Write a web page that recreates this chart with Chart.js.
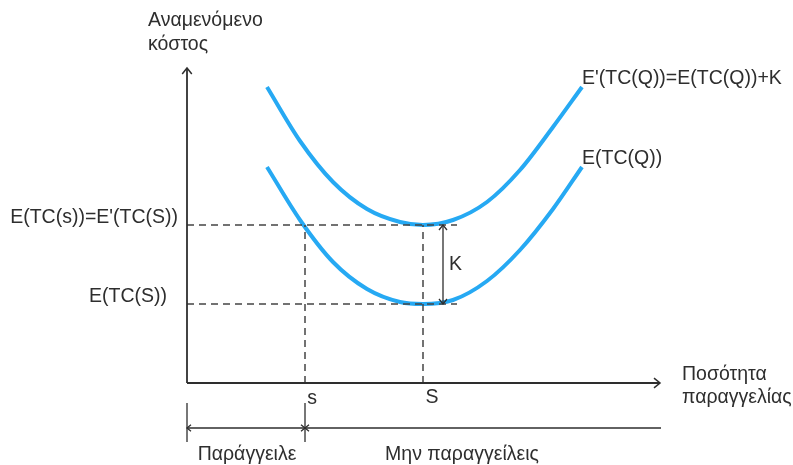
<!DOCTYPE html>
<html>
<head>
<meta charset="utf-8">
<script src="https://cdn.jsdelivr.net/npm/chart.js@4/dist/chart.umd.min.js"></script>
<style>
  html, body { margin: 0; padding: 0; background: #fff; }
  #wrap { width: 793px; height: 465px; }
</style>
</head>
<body>
<div id="wrap"><canvas id="costChart" width="793" height="465"></canvas></div>
<script>
// points (x = order quantity, y = expected cost)
const qValues = [80, 113, 146, 180, 213, 236, 266, 300, 333, 366, 395];
const upperCost = [296, 242, 201, 174, 161, 158, 163, 181, 213, 256, 296];
const lowerCost = [216, 163, 121, 94, 81, 79, 83, 102, 133, 174, 216];

const qMarks = [118, 236];           // s, S
const qMarkLabels = ["s", "S"];
const costLevels = [158, 79];        // E(TC(s))=E'(TC(S)), E(TC(S))
const costLevelLabels = ["E(TC(s))=E'(TC(S))", "E(TC(S))"];
const dashEnd = 270;
const curveLabels = ["E'(TC(Q))=E(TC(Q))+K", "E(TC(Q))"];
const xMax = 473, yMax = 315;

const blue = "#26a9f3";
const ink = "#2e2e2e";
const font = "19.5px 'Liberation Sans', Arial, sans-serif";

const toPts = (xs, ys) => xs.map((x, i) => ({ x: x, y: ys[i] }));

const dashed = {
  borderColor: "#444",
  borderWidth: 1.5,
  borderDash: [7, 5],
  pointRadius: 0,
  tension: 0,
};

// axes, arrows and texts
const annotate = {
  id: "annotate",
  afterDatasetsDraw(chart) {
    const c = chart.ctx;
    const xs = chart.scales.x, ys = chart.scales.y;
    const x0 = xs.getPixelForValue(0), y0 = ys.getPixelForValue(0);
    const xEnd = xs.getPixelForValue(xMax), yTop = ys.getPixelForValue(yMax);

    function line(ax, ay, bx, by) {
      c.beginPath(); c.moveTo(ax, ay); c.lineTo(bx, by); c.stroke();
    }
    function head(tx, ty, dx, dy, size) {
      // open chevron pointing in direction (dx, dy)
      const px = -dy, py = dx;
      c.beginPath();
      c.moveTo(tx - dx * size + px * size * 0.8, ty - dy * size + py * size * 0.8);
      c.lineTo(tx, ty);
      c.lineTo(tx - dx * size - px * size * 0.8, ty - dy * size - py * size * 0.8);
      c.stroke();
    }

    c.save();
    c.strokeStyle = ink;
    c.lineWidth = 1.8;
    line(x0, y0, xEnd, y0);
    line(x0, y0, x0, yTop);
    c.lineWidth = 1.5;
    head(xEnd, y0, 1, 0, 6);
    head(x0, yTop, 0, -1, 6);

    // K arrow between the two minima
    c.lineWidth = 1.3;
    const kx = xs.getPixelForValue(256);
    const ka = ys.getPixelForValue(costLevels[0]), kb = ys.getPixelForValue(costLevels[1]);
    line(kx, ka, kx, kb);
    head(kx, ka, 0, -1, 5);
    head(kx, kb, 0, 1, 5);

    // decision bracket under the axis
    const bY = y0 + 45;
    const sx = xs.getPixelForValue(qMarks[0]);
    line(x0, bY, xEnd + 1, bY);
    line(x0, bY - 25, x0, bY + 14);
    line(sx, bY - 25, sx, bY + 14);
    head(x0, bY, -1, 0, 4);
    head(sx, bY, 1, 0, 4);
    head(sx, bY, -1, 0, 4);

    c.fillStyle = ink;
    c.font = font;
    c.textBaseline = "middle";
    c.textAlign = "left";
    c.fillText("Αναμενόμενο", 148, 21);
    c.fillText("κόστος", 148, 45);
    const lastQ = xs.getPixelForValue(qValues[qValues.length - 1]);
    c.fillText(curveLabels[0], lastQ, ys.getPixelForValue(upperCost[upperCost.length - 1]) - 8);
    c.fillText(curveLabels[1], lastQ, ys.getPixelForValue(lowerCost[lowerCost.length - 1]) - 8);
    c.fillText("K", kx + 6, (ka + kb) / 2);
    c.fillText("Ποσότητα", xEnd + 22, y0 - 8);
    c.fillText("παραγγελίας", xEnd + 22, y0 + 15);

    c.textAlign = "right";
    c.fillText(costLevelLabels[0], x0 - 9, ys.getPixelForValue(costLevels[0]) - 7);
    c.fillText(costLevelLabels[1], x0 - 20, ys.getPixelForValue(costLevels[1]) - 7);

    c.textAlign = "center";
    c.fillText(qMarkLabels[0], sx + 7, y0 + 16);
    c.fillText(qMarkLabels[1], xs.getPixelForValue(qMarks[1]) + 9, y0 + 15);
    c.fillText("Παράγγειλε", (x0 + sx) / 2 + 1, bY + 27);
    c.fillText("Μην παραγγείλεις", 462, bY + 27);
    c.restore();
  }
};

const curve = {
  borderColor: blue,
  borderWidth: 4,
  pointRadius: 0,
  cubicInterpolationMode: "monotone",
  borderCapStyle: "butt",
};

new Chart(document.getElementById("costChart").getContext("2d"), {
  type: "line",
  data: {
    datasets: [
      Object.assign({ data: [{ x: 0, y: costLevels[0] }, { x: dashEnd, y: costLevels[0] }] }, dashed),
      Object.assign({ data: [{ x: 0, y: costLevels[1] }, { x: dashEnd, y: costLevels[1] }] }, dashed),
      Object.assign({ data: [{ x: qMarks[0], y: 0 }, { x: qMarks[0], y: costLevels[0] }] }, dashed),
      Object.assign({ data: [{ x: qMarks[1], y: 0 }, { x: qMarks[1], y: costLevels[0] }] }, dashed),
      Object.assign({ label: curveLabels[0], data: toPts(qValues, upperCost) }, curve),
      Object.assign({ label: curveLabels[1], data: toPts(qValues, lowerCost) }, curve),
    ],
  },
  options: {
    responsive: false,
    animation: false,
    layout: { padding: { left: 187, right: 133, top: 68, bottom: 82 } },
    scales: {
      x: { type: "linear", min: 0, max: xMax, display: false },
      y: { type: "linear", min: 0, max: yMax, display: false },
    },
    plugins: {
      legend: { display: false },
      tooltip: { enabled: false },
    },
  },
  plugins: [annotate],
});
</script>
</body>
</html>
